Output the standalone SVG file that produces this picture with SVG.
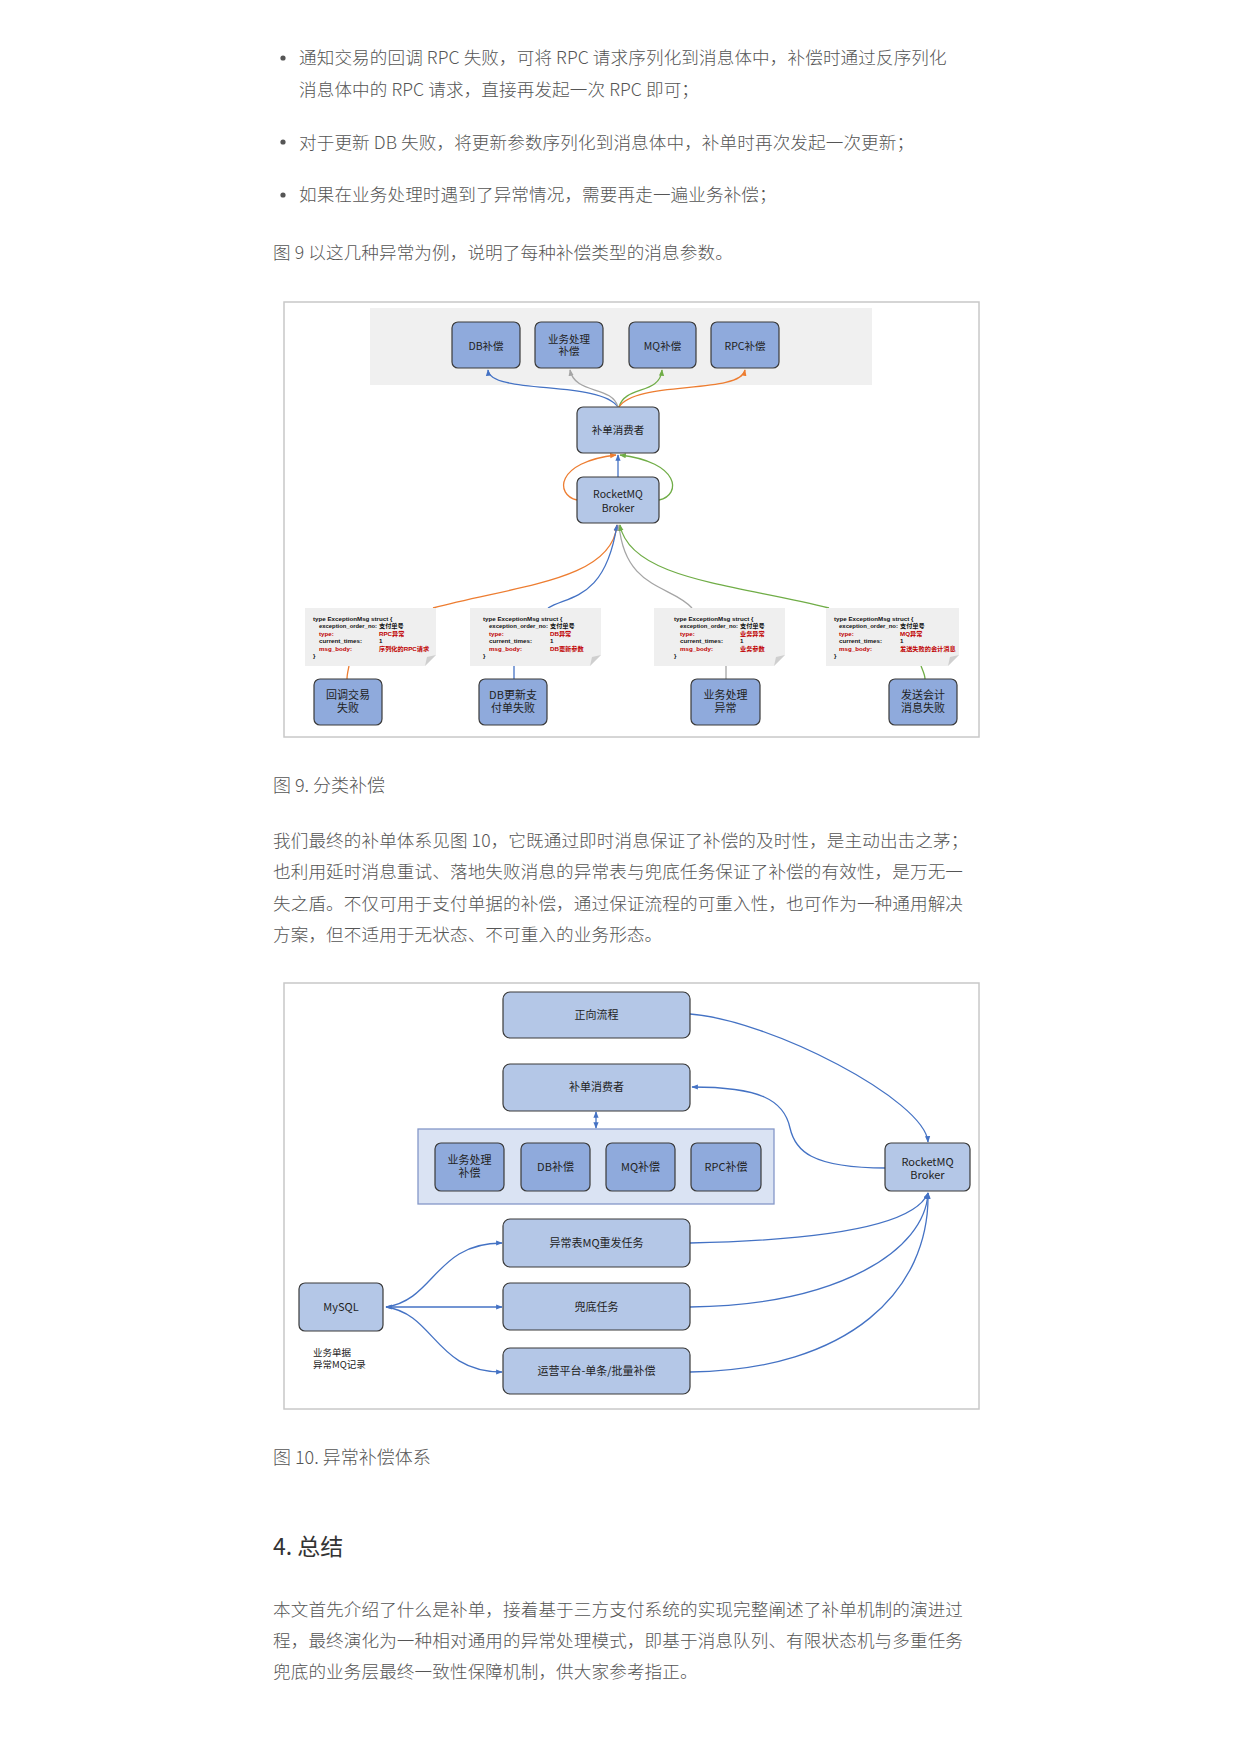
<svg xmlns="http://www.w3.org/2000/svg" width="1241" height="1754" viewBox="0 0 1241 1754">
<style>
.body{font-family:"Noto Sans CJK SC","Noto Sans",sans-serif;font-size:17.6px;fill:#555;font-weight:300;letter-spacing:0.1px}
.cap{font-family:"Noto Sans CJK SC","Noto Sans",sans-serif;font-size:18px;fill:#555;font-weight:300}
.h{font-family:"Noto Sans CJK SC","Noto Sans",sans-serif;font-size:23px;fill:#333;font-weight:400}
.frame{fill:#fff;stroke:#c8c8c8;stroke-width:1.5}
.dk{fill:#8faadc;stroke:#3a3a3a;stroke-width:1.2}
.lt{fill:#b4c7e7;stroke:#3a3a3a;stroke-width:1.2}
.t{font-family:"Noto Sans CJK SC","Liberation Sans",sans-serif;font-size:10.5px;fill:#222;text-anchor:middle}
.t11{font-family:"Noto Sans CJK SC","Liberation Sans",sans-serif;font-size:11px;fill:#222;text-anchor:middle}
.note{fill:#efefef}
.fold{fill:#cfcfcf}
.nt{font-family:"Liberation Sans","Noto Sans CJK SC",sans-serif;font-size:6.2px;fill:#111;font-weight:bold}
.nr{font-family:"Liberation Sans","Noto Sans CJK SC",sans-serif;font-size:6.2px;fill:#c00000;font-weight:bold}
.c{fill:none;stroke-width:1.3}
.cb{stroke:#4472c4}.co{stroke:#ed7d31}.cg{stroke:#70ad47}.cy{stroke:#a5a5a5}
</style>
<defs>
<marker id="ab" viewBox="0 0 10 10" refX="9" refY="5" markerWidth="5" markerHeight="5" orient="auto-start-reverse"><path d="M0,1 L10,5 L0,9 z" fill="#4472c4"/></marker>
<marker id="ao" viewBox="0 0 10 10" refX="9" refY="5" markerWidth="5" markerHeight="5" orient="auto"><path d="M0,1 L10,5 L0,9 z" fill="#ed7d31"/></marker>
<marker id="ag" viewBox="0 0 10 10" refX="9" refY="5" markerWidth="5" markerHeight="5" orient="auto"><path d="M0,1 L10,5 L0,9 z" fill="#70ad47"/></marker>
<marker id="ay" viewBox="0 0 10 10" refX="9" refY="5" markerWidth="5" markerHeight="5" orient="auto"><path d="M0,1 L10,5 L0,9 z" fill="#a5a5a5"/></marker>
</defs>
<rect width="1241" height="1754" fill="#fff"/>

<!-- text body -->
<circle cx="283" cy="58" r="2.6" fill="#555"/>
<text class="body" x="299" y="63.5">通知交易的回调 RPC 失败，可将 RPC 请求序列化到消息体中，补偿时通过反序列化</text>
<text class="body" x="299" y="95.5">消息体中的 RPC 请求，直接再发起一次 RPC 即可；</text>
<circle cx="283" cy="142" r="2.6" fill="#555"/>
<text class="body" x="299" y="148.5">对于更新 DB 失败，将更新参数序列化到消息体中，补单时再次发起一次更新；</text>
<circle cx="283" cy="195" r="2.6" fill="#555"/>
<text class="body" x="299" y="200.5">如果在业务处理时遇到了异常情况，需要再走一遍业务补偿；</text>
<text class="body" x="273" y="258.5">图 9 以这几种异常为例，说明了每种补偿类型的消息参数。</text>

<!-- Figure 9 -->
<g id="fig9">
<rect class="frame" x="284" y="302" width="695" height="435"/>
<rect x="370" y="308" width="502" height="77" fill="#f0f0f0"/>
</g>
<g id="f9-connectors">
<path class="c cb" d="M618,407 C600,380 490,395 488,370" marker-end="url(#ab)"/>
<path class="c cy" d="M618,407 C612,385 575,395 570,370" marker-end="url(#ay)"/>
<path class="c cg" d="M619,407 C625,385 660,395 662,370" marker-end="url(#ag)"/>
<path class="c co" d="M619,407 C635,380 740,395 745,370" marker-end="url(#ao)"/>
<path class="c cb" d="M618,477 L618,455" marker-end="url(#ab)"/>
<path class="c co" d="M577,500 C555,495 555,462 616,455" marker-end="url(#ao)"/>
<path class="c cg" d="M659,500 C682,495 680,462 620,455" marker-end="url(#ag)"/>
<path class="c co" d="M433,608 C520,585 612,580 617,525" marker-end="url(#ao)"/>
<path class="c cb" d="M548,608 C570,595 605,600 617,525" marker-end="url(#ab)"/>
<path class="c cy" d="M692,608 C672,585 625,590 619,525" marker-end="url(#ay)"/>
<path class="c cg" d="M829,608 C740,585 630,580 620,525" marker-end="url(#ag)"/>
<path class="c co" d="M349,666 C348,671 347,675 347,679"/>
<path class="c cb" d="M514,666 L514,679"/>
<path class="c cy" d="M726,666 L726,679"/>
<path class="c cg" d="M921,666 C923,671 925,675 925,679"/>
</g>
<g id="n-db"><rect class="dk" x="452" y="322" width="68" height="46" rx="6"/><text class="t" x="486" y="349.5">DB补偿</text></g>
<g id="n-biz"><rect class="dk" x="535" y="322" width="68" height="46" rx="6"/><text class="t" x="569" y="343">业务处理</text><text class="t" x="569" y="354.5">补偿</text></g>
<g id="n-mq"><rect class="dk" x="629" y="322" width="67" height="46" rx="6"/><text class="t" x="662.5" y="349.5">MQ补偿</text></g>
<g id="n-rpc"><rect class="dk" x="711" y="322" width="68" height="46" rx="6"/><text class="t" x="745" y="349.5">RPC补偿</text></g>
<g id="n-consumer9"><rect class="lt" x="577" y="407" width="82" height="46" rx="6"/><text class="t" x="618" y="434">补单消费者</text></g>
<g id="n-broker9"><rect class="lt" x="577" y="477" width="82" height="46" rx="6"/><text class="t" x="618" y="498">RocketMQ</text><text class="t" x="618" y="511.5">Broker</text></g>

<g id="note1">
<path class="note" d="M305,608 H436 V655 L425,666 H305 Z"/><path class="fold" d="M425,666 L436,655 L427,657 Z"/>
<text class="nt" x="313" y="620.5">type ExceptionMsg struct {</text>
<text class="nt" x="319" y="628" textLength="58" lengthAdjust="spacingAndGlyphs">exception_order_no:</text><text class="nt" x="379" y="628">支付单号</text>
<text class="nr" x="319" y="635.5">type:</text><text class="nr" x="379" y="635.5">RPC异常</text>
<text class="nt" x="319" y="643">current_times:</text><text class="nt" x="379" y="643">1</text>
<text class="nr" x="319" y="650.5">msg_body:</text><text class="nr" x="379" y="650.5">序列化的RPC请求</text>
<text class="nt" x="313" y="658">}</text>
</g>
<g id="note2">
<path class="note" d="M470,608 H601 V655 L590,666 H470 Z"/><path class="fold" d="M590,666 L601,655 L592,657 Z"/>
<text class="nt" x="483" y="620.5">type ExceptionMsg struct {</text>
<text class="nt" x="489" y="628" textLength="59" lengthAdjust="spacingAndGlyphs">exception_order_no:</text><text class="nt" x="550" y="628">支付单号</text>
<text class="nr" x="489" y="635.5">type:</text><text class="nr" x="550" y="635.5">DB异常</text>
<text class="nt" x="489" y="643">current_times:</text><text class="nt" x="550" y="643">1</text>
<text class="nr" x="489" y="650.5">msg_body:</text><text class="nr" x="550" y="650.5">DB更新参数</text>
<text class="nt" x="483" y="658">}</text>
</g>
<g id="note3">
<path class="note" d="M654,608 H785 V655 L774,666 H654 Z"/><path class="fold" d="M774,666 L785,655 L776,657 Z"/>
<text class="nt" x="674" y="620.5">type ExceptionMsg struct {</text>
<text class="nt" x="680" y="628" textLength="58" lengthAdjust="spacingAndGlyphs">exception_order_no:</text><text class="nt" x="740" y="628">支付单号</text>
<text class="nr" x="680" y="635.5">type:</text><text class="nr" x="740" y="635.5">业务异常</text>
<text class="nt" x="680" y="643">current_times:</text><text class="nt" x="740" y="643">1</text>
<text class="nr" x="680" y="650.5">msg_body:</text><text class="nr" x="740" y="650.5">业务参数</text>
<text class="nt" x="674" y="658">}</text>
</g>
<g id="note4">
<path class="note" d="M826,608 H959 V655 L948,666 H826 Z"/><path class="fold" d="M948,666 L959,655 L950,657 Z"/>
<text class="nt" x="834" y="620.5">type ExceptionMsg struct {</text>
<text class="nt" x="839" y="628" textLength="59" lengthAdjust="spacingAndGlyphs">exception_order_no:</text><text class="nt" x="900" y="628">支付单号</text>
<text class="nr" x="839" y="635.5">type:</text><text class="nr" x="900" y="635.5">MQ异常</text>
<text class="nt" x="839" y="643">current_times:</text><text class="nt" x="900" y="643">1</text>
<text class="nr" x="839" y="650.5">msg_body:</text><text class="nr" x="900" y="650.5">发送失败的会计消息</text>
<text class="nt" x="834" y="658">}</text>
</g>
<g id="n-cb"><rect class="dk" x="314" y="679" width="68" height="46" rx="6"/><text class="t11" x="348" y="699">回调交易</text><text class="t11" x="348" y="712">失败</text></g>
<g id="n-dbfail"><rect class="dk" x="479" y="679" width="68" height="46" rx="6"/><text class="t11" x="513" y="699">DB更新支</text><text class="t11" x="513" y="712">付单失败</text></g>
<g id="n-bizerr"><rect class="dk" x="691" y="679" width="69" height="46" rx="6"/><text class="t11" x="725.5" y="699">业务处理</text><text class="t11" x="725.5" y="712">异常</text></g>
<g id="n-acct"><rect class="dk" x="889" y="679" width="68" height="46" rx="6"/><text class="t11" x="923" y="699">发送会计</text><text class="t11" x="923" y="712">消息失败</text></g>

<text class="cap" x="273" y="792">图 9. 分类补偿</text>
<text class="body" x="273" y="846.5">我们最终的补单体系见图 10，它既通过即时消息保证了补偿的及时性，是主动出击之茅；</text>
<text class="body" x="273" y="877.5">也利用延时消息重试、落地失败消息的异常表与兜底任务保证了补偿的有效性，是万无一</text>
<text class="body" x="273" y="909.5">失之盾。不仅可用于支付单据的补偿，通过保证流程的可重入性，也可作为一种通用解决</text>
<text class="body" x="273" y="940.5">方案，但不适用于无状态、不可重入的业务形态。</text>

<!-- Figure 10 -->
<g id="fig10"><rect class="frame" x="284" y="983" width="695" height="426"/></g>
<g id="n-group"><rect x="418" y="1129" width="356" height="75" fill="#dae3f3" stroke="#8497c8" stroke-width="1.3"/></g>
<g id="f10-connectors">
<path class="c cb" d="M690,1014 C770,1020 925,1100 928,1142" marker-end="url(#ab)"/>
<path class="c cb" d="M886,1168 C810,1168 795,1150 790,1128 C784,1100 760,1087 692,1087" marker-end="url(#ab)"/>
<path class="c cb" d="M596,1112 L596,1128" marker-start="url(#ab)" marker-end="url(#ab)"/>
<path class="c cb" d="M386,1307 C435,1300 435,1243 502,1243" marker-end="url(#ab)"/>
<path class="c cb" d="M386,1307 L502,1307" marker-start="url(#ab)" marker-end="url(#ab)"/>
<path class="c cb" d="M386,1307 C435,1314 435,1372 502,1372" marker-end="url(#ab)"/>
<path class="c cb" d="M690,1243 C830,1240 915,1225 928,1193" marker-end="url(#ab)"/>
<path class="c cb" d="M690,1307 C840,1305 925,1250 928,1193" marker-end="url(#ab)"/>
<path class="c cb" d="M690,1372 C850,1370 930,1290 928,1193" marker-end="url(#ab)"/>
</g>
<g id="n-forward"><rect class="lt" x="503" y="992" width="187" height="46" rx="7"/><text class="t11" x="596.5" y="1019">正向流程</text></g>
<g id="n-consumer10"><rect class="lt" x="503" y="1064" width="187" height="47" rx="7"/><text class="t11" x="596.5" y="1091">补单消费者</text></g>
<g id="n-biz10"><rect class="dk" x="435" y="1143" width="69" height="48" rx="6"/><text class="t11" x="469.5" y="1164">业务处理</text><text class="t11" x="469.5" y="1177">补偿</text></g>
<g id="n-db10"><rect class="dk" x="521" y="1143" width="69" height="48" rx="6"/><text class="t11" x="555.5" y="1171">DB补偿</text></g>
<g id="n-mq10"><rect class="dk" x="606" y="1143" width="69" height="48" rx="6"/><text class="t11" x="640.5" y="1171">MQ补偿</text></g>
<g id="n-rpc10"><rect class="dk" x="691" y="1143" width="70" height="48" rx="6"/><text class="t11" x="726" y="1171">RPC补偿</text></g>
<g id="n-broker10"><rect class="lt" x="885" y="1143" width="85" height="48" rx="6"/><text class="t11" x="927.5" y="1166">RocketMQ</text><text class="t11" x="927.5" y="1179">Broker</text></g>
<g id="n-retry"><rect class="lt" x="503" y="1219" width="187" height="48" rx="7"/><text class="t11" x="596.5" y="1247">异常表MQ重发任务</text></g>
<g id="n-fallback"><rect class="lt" x="503" y="1283" width="187" height="47" rx="7"/><text class="t11" x="596.5" y="1311">兜底任务</text></g>
<g id="n-ops"><rect class="lt" x="503" y="1348" width="187" height="46" rx="7"/><text class="t11" x="596.5" y="1375">运营平台-单条/批量补偿</text></g>
<g id="n-mysql"><rect class="lt" x="299" y="1283" width="84" height="48" rx="6"/><text class="t11" x="341" y="1311">MySQL</text>
<text class="t11" x="313" y="1356" style="text-anchor:start;font-size:9.5px">业务单据</text>
<text class="t11" x="313" y="1368" style="text-anchor:start;font-size:9.5px">异常MQ记录</text></g>

<text class="cap" x="273" y="1464">图 10. 异常补偿体系</text>
<text class="h" x="273" y="1555">4. 总结</text>
<text class="body" x="273" y="1615.5">本文首先介绍了什么是补单，接着基于三方支付系统的实现完整阐述了补单机制的演进过</text>
<text class="body" x="273" y="1646.5">程，最终演化为一种相对通用的异常处理模式，即基于消息队列、有限状态机与多重任务</text>
<text class="body" x="273" y="1677.5">兜底的业务层最终一致性保障机制，供大家参考指正。</text>
</svg>
